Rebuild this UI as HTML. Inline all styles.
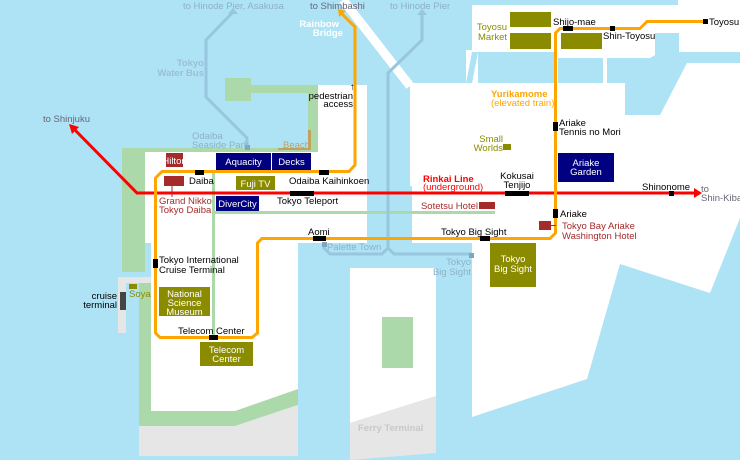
<!DOCTYPE html>
<html><head><meta charset="utf-8"><style>
html,body{margin:0;padding:0;background:#aee3f6}
svg{display:block}
text{font-family:"Liberation Sans",sans-serif;font-size:9.5px}
</style></head><body>
<svg width="740" height="460" viewBox="0 0 740 460" xmlns="http://www.w3.org/2000/svg">
<rect width="740" height="460" fill="#aee3f6"/>
<!-- Toyosu land -->
<polygon points="472,5 678,5 678,0 740,0 740,52 472,52" fill="#fff"/>
<!-- Ariake land -->
<polygon points="410,83 740,83 740,218 710,293 620,264 587,379 472,417 472,243 410,243" fill="#fff"/>
<rect x="466" y="50" width="274" height="35" fill="#fff"/>
<rect x="478" y="52" width="77" height="31" fill="#aee3f6"/>
<rect x="558" y="58" width="45" height="25" fill="#aee3f6"/>
<polygon points="607,58 650,58 655,55 655,33 679,33 679,52 740,52 740,63 687,63 660,115 625,115 625,83 607,83" fill="#aee3f6"/>
<polygon points="472,52 478,52 472,83 466,83" fill="#aee3f6"/>
<!-- Odaiba upper white -->
<rect x="318" y="85" width="49" height="70" fill="#fff"/>
<!-- Rainbow bridge road -->
<line x1="343" y1="0" x2="410" y2="86" stroke="#fff" stroke-width="9"/>
<!-- Odaiba main -->
<rect x="145" y="152" width="222" height="91" fill="#fff"/>
<rect x="151" y="243" width="147" height="168" fill="#fff"/>
<polygon points="235,411 298,389 298,405 235,426" fill="#fff"/>
<!-- greens -->
<rect x="225" y="78" width="26" height="23" fill="#acd9aa"/>
<rect x="251" y="85" width="67" height="8" fill="#acd9aa"/>
<rect x="308" y="85" width="10" height="67" fill="#acd9aa"/>
<rect x="122" y="148" width="196" height="4" fill="#acd9aa"/>
<rect x="122" y="148" width="23" height="124" fill="#acd9aa"/>
<rect x="139" y="283" width="12" height="143" fill="#acd9aa"/>
<polygon points="139,411 235,411 298,389 298,405 235,426 139,426" fill="#acd9aa"/>
<polygon points="139,426 235,426 298,405 298,456 139,456" fill="#e6e6e6"/>
<!-- cruise terminal grey -->
<rect x="118" y="277" width="33" height="6" fill="#e6e6e6"/>
<rect x="118" y="277" width="8" height="56" fill="#e6e6e6"/>
<rect x="120" y="292" width="6" height="18" fill="#444"/>
<!-- channel -->
<rect x="367" y="186" width="45" height="57" fill="#aee3f6"/>
<rect x="298" y="243" width="174" height="217" fill="#aee3f6"/>
<!-- ferry land -->
<polygon points="350,268 436,268 436,396 350,423" fill="#fff"/>
<polygon points="350,423 436,396 436,453 350,460" fill="#e6e6e6"/>
<rect x="382" y="317" width="31" height="51" fill="#acd9aa"/>
<!-- green paths -->
<line x1="213.5" y1="172" x2="213.5" y2="337" stroke="#acd9aa" stroke-width="3"/>
<line x1="215" y1="212.5" x2="495" y2="212.5" stroke="#acd9aa" stroke-width="3"/>
<!-- water bus -->
<g stroke="#97c6de" stroke-width="3" fill="none">
<polyline points="233,12 206,40 206,97 247,138 247,147"/>
<polyline points="422,13 422,40 388,73 388,248 382,254 330,254 324,248 324,244"/>
<polyline points="388,248 394,254 471,254"/>
</g>
<polygon points="233,8 228,14 238,14" fill="#97c6de"/>
<polygon points="422,9 417,15 427,15" fill="#97c6de"/>
<rect x="245" y="145" width="5" height="5" fill="#7fa6bc"/>
<rect x="322" y="242" width="5" height="5" fill="#7fa6bc"/>
<rect x="469" y="253" width="5" height="5" fill="#7fa6bc"/>
<!-- beach -->
<rect x="308" y="130" width="3" height="20" fill="#c2a160"/>
<rect x="278" y="148" width="33" height="2" fill="#c2a160"/>
<!-- Rinkai -->
<polyline points="73,128 137,193 697,193" fill="none" stroke="#f00" stroke-width="3"/>
<polygon points="69,124 79,127 72,134" fill="#f00"/>
<polygon points="702,193 694,188 694,198" fill="#f00"/>
<!-- Yurikamome -->
<polyline points="341,13 355,27 355,165 349,171.5 162,171.5 155.5,178 155.5,333 160,337.5 252,337.5 257.5,333 257.5,243 262,238.5 550,238.5 555.5,233 555.5,33 560,28.5 640,28.5 647,21.5 705,21.5" fill="none" stroke="#ffa500" stroke-width="3"/>
<polygon points="338,9 339,17 346,11" fill="#ffa500"/>
<!-- stations -->
<g fill="#000">
<rect x="195" y="170" width="9" height="5"/><rect x="319" y="170" width="10" height="5"/>
<rect x="563" y="26" width="10" height="5"/><rect x="610" y="26" width="5" height="5"/>
<rect x="703" y="19" width="5" height="5"/><rect x="553" y="122" width="5" height="9"/>
<rect x="553" y="209" width="5" height="9"/><rect x="480" y="236" width="10" height="5"/>
<rect x="313" y="236" width="13" height="5"/><rect x="209" y="335" width="9" height="5"/>
<rect x="153" y="259" width="5" height="9"/>
<rect x="290" y="191" width="24" height="5"/><rect x="505" y="191" width="24" height="5"/>
<rect x="669" y="191" width="5" height="5"/>
</g>
<!-- buildings -->
<rect x="166" y="153" width="17" height="14" fill="#a52a2a"/>
<rect x="216" y="153" width="55" height="17" fill="#000080"/>
<rect x="272" y="153" width="39" height="17" fill="#000080"/>
<rect x="164" y="176" width="20" height="10" fill="#a52a2a"/>
<line x1="172" y1="186" x2="172" y2="197" stroke="#a52a2a"/>
<rect x="236" y="176" width="39" height="14" fill="#8b8b00"/>
<rect x="216" y="196" width="43" height="15" fill="#000080"/>
<rect x="159" y="287" width="51" height="29" fill="#8b8b00"/>
<rect x="200" y="342" width="53" height="24" fill="#8b8b00"/>
<rect x="129" y="284" width="8" height="5" fill="#8b8b00"/>
<rect x="490" y="243" width="46" height="44" fill="#8b8b00"/>
<rect x="539" y="221" width="12" height="9" fill="#a52a2a"/>
<line x1="551" y1="225.5" x2="556" y2="225.5" stroke="#a52a2a"/>
<rect x="479" y="202" width="16" height="7" fill="#a52a2a"/>
<rect x="558" y="153" width="56" height="29" fill="#000080"/>
<rect x="510" y="12" width="41" height="15" fill="#8b8b00"/>
<rect x="510" y="33" width="41" height="16" fill="#8b8b00"/>
<rect x="561" y="33" width="41" height="16" fill="#8b8b00"/>
<rect x="503" y="144" width="8" height="6" fill="#8b8b00"/>
<!-- labels -->
<g fill="#fff" text-anchor="middle">
<text x="174.5" y="164">Hilton</text><text x="243.5" y="165">Aquacity</text><text x="291.5" y="165">Decks</text>
<text x="255.5" y="187">Fuji TV</text><text x="237.5" y="207">DiverCity</text>
<text x="184.5" y="297">National</text><text x="184.5" y="306">Science</text><text x="184.5" y="315">Museum</text>
<text x="226.5" y="353">Telecom</text><text x="226.5" y="362">Center</text>
<text x="513" y="262">Tokyo</text><text x="513" y="272">Big Sight</text>
<text x="586" y="166">Ariake</text><text x="586" y="175">Garden</text>
</g>
<g fill="#fff" font-weight="bold" text-anchor="end"><text x="339" y="27">Rainbow</text><text x="343" y="36">Bridge</text></g>
<g fill="#8fb0c4">
<text x="183" y="9">to Hinode Pier, Asakusa</text><text x="390" y="9">to Hinode Pier</text>
<text x="192" y="139">Odaiba</text><text x="192" y="148">Seaside Park</text>
<text x="327" y="250">Palette Town</text>
<text x="471" y="265" text-anchor="end">Tokyo</text><text x="471" y="275" text-anchor="end">Big Sight</text>
</g>
<g fill="#9cbfd0" font-weight="bold" text-anchor="end"><text x="204" y="66">Tokyo</text><text x="204" y="76">Water Bus</text></g>
<g fill="#667">
<text x="310" y="9">to Shimbashi</text><text x="43" y="122">to Shinjuku</text>
<text x="701" y="192">to</text><text x="701" y="201">Shin-Kiba</text>
</g>
<text x="283" y="148" fill="#c2a160">Beach</text>
<text x="358" y="431" fill="#c8c8c8" font-weight="bold">Ferry Terminal</text>
<g fill="#000">
<text x="350" y="90">↑</text>
<text x="353" y="99" text-anchor="end">pedestrian</text><text x="353" y="107" text-anchor="end">access</text>
<text x="189" y="184">Daiba</text><text x="289" y="184">Odaiba Kaihinkoen</text>
<text x="277" y="204">Tokyo Teleport</text>
<text x="159" y="263">Tokyo International</text><text x="159" y="273">Cruise Terminal</text>
<text x="117" y="299" text-anchor="end">cruise</text><text x="117" y="308" text-anchor="end">terminal</text>
<text x="178" y="334">Telecom Center</text>
<text x="308" y="235">Aomi</text><text x="441" y="235">Tokyo Big Sight</text>
<text x="553" y="25">Shijo-mae</text><text x="603" y="39">Shin-Toyosu</text><text x="709" y="25">Toyosu</text>
<text x="559" y="126">Ariake</text><text x="559" y="135">Tennis no Mori</text>
<text x="517" y="179" text-anchor="middle">Kokusai</text><text x="517" y="188" text-anchor="middle">Tenjijo</text>
<text x="642" y="190">Shinonome</text><text x="560" y="217">Ariake</text>
</g>
<g fill="#a52a2a">
<text x="159" y="204">Grand Nikko</text><text x="159" y="213">Tokyo Daiba</text>
<text x="478" y="209" text-anchor="end">Sotetsu Hotel</text>
<text x="562" y="229">Tokyo Bay Ariake</text><text x="562" y="239">Washington Hotel</text>
</g>
<g fill="#8b8b00">
<text x="507" y="30" text-anchor="end">Toyosu</text><text x="507" y="40" text-anchor="end">Market</text>
<text x="503" y="142" text-anchor="end">Small</text><text x="503" y="151" text-anchor="end">Worlds</text>
<text x="129" y="297">Soya</text>
</g>
<g fill="#ffa500"><text x="491" y="97" font-weight="bold">Yurikamome</text><text x="491" y="106">(elevated train)</text></g>
<g fill="#f00"><text x="423" y="182" font-weight="bold">Rinkai Line</text><text x="423" y="190">(underground)</text></g>
</svg>
</body></html>
